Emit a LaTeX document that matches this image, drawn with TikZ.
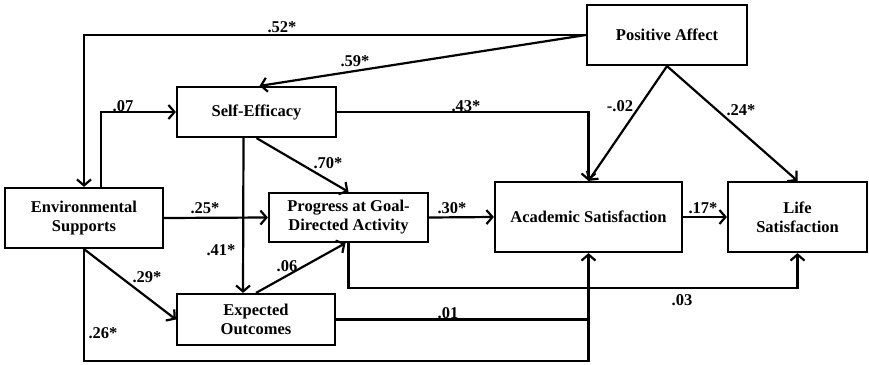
\documentclass[tikz,border=0pt]{standalone}
\usepackage{fontspec}
\setmainfont{Liberation Serif}
\usetikzlibrary{arrows.meta}
\begin{document}
\begin{tikzpicture}[x=1pt,y=-1pt,
  box/.style={draw,line width=2.2pt,rectangle,align=center,inner sep=0pt,
    font=\fontsize{16.5}{19}\selectfont\bfseries},
  link/.style={line width=2.2pt,-{Straight Barb[length=6pt,width=14pt,line width=2.2pt]}},
  plain/.style={line width=2.2pt},
  coef/.style={font=\fontsize{16.5}{19}\selectfont\bfseries,inner sep=0pt}]
\useasboundingbox (0,0) rectangle (869,364);

% variables
\node[box,minimum width=160,minimum height=60] (PA) at (667,35) {Positive Affect};
\node[box,minimum width=159,minimum height=50] (SE) at (256.5,112) {Self-Efficacy};
\node[box,minimum width=158,minimum height=60] (Env) at (84,218) {Environmental\\Supports};
\node[box,minimum width=159,minimum height=49] (Prog) at (348.5,217.5) {Progress at Goal-\\Directed Activity};
\node[box,minimum width=158,minimum height=51] (EO) at (256,319.5) {Expected\\Outcomes};
\node[box,minimum width=187,minimum height=70] (AS) at (588.5,217) {Academic Satisfaction};
\node[box,minimum width=139,minimum height=70] (LS) at (797.5,217) {Life\\Satisfaction};

% bend points
\coordinate (envlow) at (84,361);
\coordinate (proglow) at (348.5,288);

% paths
\draw[link] (PA.west) -| (Env.north);
\draw[link] (PA.west) -- ([xshift=3]SE.north);
\draw[link] ([xshift=17]Env.north) |- (SE.west);
\draw[link] (SE.east) -| (AS.north);
\draw[link] (PA.south) -- (AS.north);
\draw[link] (PA.south) -- (LS.north);
\draw[link] (SE.south) -- (Prog.north);
\draw[link] ([xshift=-13]SE.south) -- ([xshift=-13]EO.north);
\draw[link] (Env.east) -- (Prog.west);
\draw[link] (EO.north) -- ([xshift=-3]Prog.south);
\draw[link] (Env.south) -- (EO.west);
\draw[link] (Env.south) -- (envlow) -| (AS.south);
\draw[plain] (EO.east) -- (AS.south |- EO.east);
\draw[link] (Prog.east) -- (AS.west);
\draw[link] (AS.east) -- (LS.west);
\draw[link] (Prog.south) -- (proglow) -| (LS.south);

% path coefficients
\node[coef] (c52) at (282,27) {.52*};
\node[coef] (c59) at (355,61) {.59*};
\node[coef] (c07) at (123,106) {.07};
\node[coef] (c43) at (466,106) {.43*};
\node[coef] (c02) at (620,106) {-.02};
\node[coef] (c24) at (741,110) {.24*};
\node[coef] (c70) at (328,163) {.70*};
\node[coef] (c25) at (205,208) {.25*};
\node[coef] (c30) at (452,208) {.30*};
\node[coef] (c17) at (703,208) {.17*};
\node[coef] (c41) at (221,250) {.41*};
\node[coef] (c06) at (287,266) {.06};
\node[coef] (c29) at (147,277) {.29*};
\node[coef] (c26) at (103,333) {.26*};
\node[coef] (c01) at (448,313) {.01};
\node[coef] (c03) at (682,300) {.03};
\end{tikzpicture}
\end{document}
